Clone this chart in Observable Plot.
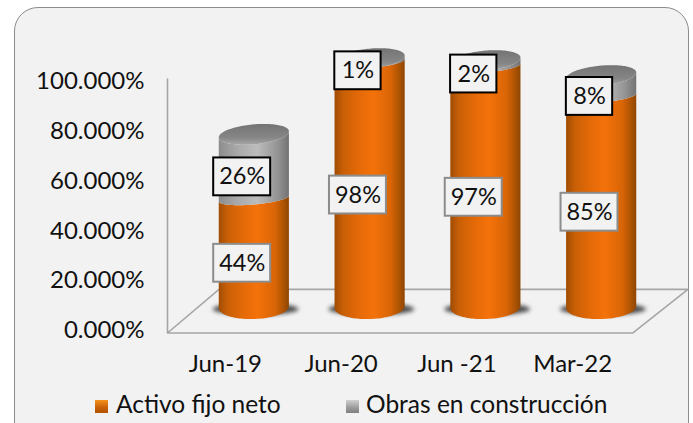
<!DOCTYPE html>
<html><head><meta charset="utf-8">
<script src="https://cdn.jsdelivr.net/npm/d3@7"></script>
<script src="https://cdn.jsdelivr.net/npm/@observablehq/plot@0.6"></script>
<style>
html,body{margin:0;padding:0;background:#fff;overflow:hidden;width:693px;height:423px;}
#frame{position:absolute;left:14px;top:7px;width:675px;height:440px;box-sizing:border-box;border:1.5px solid #8c8c8c;border-radius:24px;background:#f2f2f2;}
#chart{position:absolute;left:0;top:0;}
#legend{position:absolute;left:0;top:387px;width:693px;height:36px;font:24.5px Lato,Carlito,sans-serif;color:#111;}
#legend span{position:absolute;top:2px;white-space:nowrap;}
#legend i{position:absolute;top:13px;width:13px;height:13px;}
</style></head><body>
<div id="frame"></div><div id="chart"></div>
<div id="legend">
<i style="left:95px;background:linear-gradient(#f7921e,#c65f08 60%,#b35300)"></i><span style="left:116px" id="l0"></span>
<i style="left:346px;background:linear-gradient(#d0d0d0,#9a9a9a 60%,#808080)"></i><span style="left:366px" id="l1"></span>
</div>
<script>
const categories = ["Jun-19", "Jun-20", "Jun -21", "Mar-22"];
const activoFijoNeto = [43.6, 98.4, 96.6, 84.6];
const obrasConstruccion = [25.8, 1.4, 2.4, 8.4];
const seriesNames = ["Activo fijo neto", "Obras en construcción"];
const yTicks = [0, 20, 40, 60, 80, 100];
const floorBackY = 16.5, floorFrontY = -1;
const floorXs = [-0.75, 3.27, 3.745, -0.305];

document.getElementById("l0").textContent = seriesNames[0];
document.getElementById("l1").textContent = seriesNames[1];

const lift = 9.2, rx = 0.303, baseRy = 4.8, capRy = 4.0, innerRy = 2.4, tilt = 1.2;
const ts = d3.range(0, 61).map(k => Math.PI * k / 60);
// Cylinder side between two heights, each edge being the front half of an ellipse
function side(i, v0, ry0, v1, ry1) {
  return ts.map(t => {
    const c = Math.cos(t), s = Math.sin(t);
    return {i, x: i + rx * c,
      y1: lift + v0 + (v0 > 0 ? tilt : 0.4) * c - ry0 * s,
      y2: lift + v1 + tilt * c - ry1 * s};
  });
}
const shadows = categories.flatMap((_, i) => ts.map(t => ({
  i, x: i + 0.015 + 0.37 * Math.cos(t),
  y1: lift - 0.8 - 2.4 * Math.sin(t), y2: lift - 0.8 + 2.4 * Math.sin(t)
})));
const orangeBodies = categories.flatMap((_, i) => side(i, 0, baseRy, activoFijoNeto[i], innerRy));
const grayBodies = categories.flatMap((_, i) => side(i, activoFijoNeto[i], innerRy, activoFijoNeto[i] + obrasConstruccion[i], capRy));
const caps = categories.flatMap((_, i) => {
  const v = activoFijoNeto[i] + obrasConstruccion[i];
  return ts.map(t => ({i, x: i + rx * Math.cos(t),
    y1: lift + v + tilt * Math.cos(t) - capRy * Math.sin(t),
    y2: lift + v + tilt * Math.cos(t) + capRy * Math.sin(t)}));
});

const labels = categories.flatMap((_, i) => {
  const a = activoFijoNeto[i], b = obrasConstruccion[i];
  return [
    {i, v: a, y: lift - 4 + a / 2, stroke: "#8c8c8c"},
    {i, v: b, y: lift - 4 + a + b / 2, stroke: "#000"}
  ];
}).map(d => {
  const t = Math.round(d.v) + "%";
  const hw = t.length > 2 ? 0.246 : 0.2;
  return {...d, t, x: d.i - 0.105, x1: d.i - 0.105 - hw, x2: d.i - 0.105 + hw, y1: d.y - 7.6, y2: d.y + 7.6};
});

function defs() {
  const svg = d3.create("svg:defs");
  const mk = (id, stops, vertical) => {
    const g = svg.append("linearGradient").attr("id", id);
    if (vertical) g.attr("x1", 0).attr("x2", 0).attr("y1", 0).attr("y2", 1);
    stops.forEach(([o, c]) => g.append("stop").attr("offset", o).attr("stop-color", c));
  };
  mk("orangeCyl", [[0, "#a04c02"], [0.12, "#c85f06"], [0.35, "#e56a08"], [0.55, "#f4720a"], [0.8, "#d96506"], [0.93, "#a95203"], [1, "#8f4502"]]);
  mk("grayCyl", [[0, "#8c8c8c"], [0.25, "#a8a8a8"], [0.55, "#bcbcbc"], [0.85, "#929292"], [1, "#727272"]]);
  mk("capFill", [[0, "#747474"], [0.65, "#868686"], [1, "#a6a6a6"]], true);
  return svg.node();
}

const chart = Plot.plot({
  width: 693, height: 385,
  marginTop: 81, marginBottom: 55, marginLeft: 167, marginRight: 5,
  style: {background: "transparent", fontFamily: "Lato, Carlito, sans-serif", overflow: "visible"},
  x: {domain: [-0.75, 3.75], axis: null},
  y: {domain: [0, 100], axis: null},
  marks: [
    defs,
    Plot.line([[floorXs[0], 101], [floorXs[0], floorFrontY], [floorXs[1], floorFrontY], [floorXs[2], floorBackY], [floorXs[3], floorBackY], [floorXs[0], floorFrontY]],
      {stroke: "#a6a6a6", strokeWidth: 1.6, curve: "linear"}),
    Plot.areaY(shadows, {x: "x", y1: "y1", y2: "y2", z: "i", fill: "#4a4a4a", imageFilter: "blur(2.2px)"}),
    Plot.areaY(orangeBodies, {x: "x", y1: "y1", y2: "y2", z: "i", fill: "url(#orangeCyl)"}),
    Plot.areaY(grayBodies, {x: "x", y1: "y1", y2: "y2", z: "i", fill: "url(#grayCyl)"}),
    Plot.areaY(caps, {x: "x", y1: "y1", y2: "y2", z: "i", fill: "url(#capFill)"}),
    Plot.rect(labels, {x1: "x1", x2: "x2", y1: "y1", y2: "y2", fill: "#f2f2f2", stroke: "stroke", strokeWidth: 2}),
    Plot.text(labels, {x: "x", y: "y", text: "t", fontSize: 23.5, fill: "#111"}),
    Plot.axisY({ticks: yTicks, tickFormat: d => d.toFixed(3) + "%", tickSize: 0, tickPadding: 23, fontSize: 24, color: "#111", label: null, anchor: "left"}),
    Plot.axisX({ticks: [0, 1, 2, 3], tickFormat: i => categories[i], tickSize: 0, tickPadding: 24, dx: -29, fontSize: 24, color: "#111", label: null})
  ]
});
document.getElementById("chart").appendChild(chart);
</script>
</body></html>
